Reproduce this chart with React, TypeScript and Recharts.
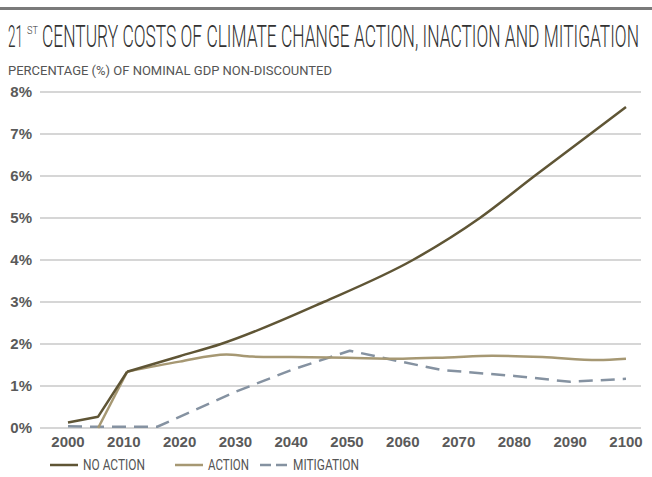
import { LineChart, Line, XAxis, YAxis, CartesianGrid } from 'recharts';

const xTicks = [2000, 2010, 2020, 2030, 2040, 2050, 2060, 2070, 2080, 2090, 2100];
const yTicks = [0, 1, 2, 3, 4, 5, 6, 7, 8];

// early straight segments and the later smooth part are drawn as two pieces of one series
const noActionEarlyYears = [2000, 2005.4, 2010.6];
const noActionEarlyValues = [0.13, 0.27, 1.34];
const noActionYears = [2010.6, 2020, 2027.4, 2045.8, 2061.8, 2073.8, 2083.6, 2093.6, 2100];
const noActionValues = [1.34, 1.71, 2.0, 3.0, 4.0, 5.0, 6.0, 7.0, 7.64];

const actionEarlyYears = [2005.4, 2010.6];
const actionEarlyValues = [0, 1.34];
const actionYears = [2010.6, 2020, 2028.4, 2033, 2040, 2050, 2060, 2068, 2076, 2085, 2095, 2100];
const actionValues = [1.34, 1.58, 1.75, 1.7, 1.69, 1.67, 1.65, 1.68, 1.72, 1.69, 1.62, 1.65];

const mitigationYears = [2000, 2005, 2010, 2016, 2030, 2040, 2050.5, 2060, 2067, 2080, 2090, 2100];
const mitigationValues = [0.04, 0.03, 0.03, 0.03, 0.86, 1.38, 1.84, 1.57, 1.38, 1.24, 1.1, 1.17];

const toRows = (years: number[], values: number[]) =>
  years.map((year, i) => ({ year, value: values[i] }));

const NO_ACTION = '#5f5535';
const ACTION = '#a69873';
const MITIGATION = '#8592a1';

const legendItems = [
  { name: 'NO ACTION', color: NO_ACTION, dashed: false, x: 50, w: 62 },
  { name: 'ACTION', color: ACTION, dashed: false, x: 175, w: 41 },
  { name: 'MITIGATION', color: MITIGATION, dashed: true, x: 260, w: 66 },
];

const lines = [
  { key: 'mit', color: MITIGATION, dash: '14 8', type: 'linear', data: toRows(mitigationYears, mitigationValues) },
  { key: 'actEarly', color: ACTION, dash: undefined, type: 'linear', data: toRows(actionEarlyYears, actionEarlyValues) },
  { key: 'act', color: ACTION, dash: undefined, type: 'monotone', data: toRows(actionYears, actionValues) },
  { key: 'noEarly', color: NO_ACTION, dash: undefined, type: 'linear', data: toRows(noActionEarlyYears, noActionEarlyValues) },
  { key: 'no', color: NO_ACTION, dash: undefined, type: 'monotone', data: toRows(noActionYears, noActionValues) },
];

const tickStyle = { fontSize: 15, fill: '#5a5a5a', fontWeight: 700, fontFamily: 'Liberation Sans, Arial, sans-serif' };

function LegendRow() {
  return (
    <svg width={652} height={20} style={{ position: 'absolute', left: 0, top: 456 }}>
      {legendItems.map((s) => (
        <g key={s.name}>
          <line
            x1={s.x}
            y1={9}
            x2={s.x + 28}
            y2={9}
            stroke={s.color}
            strokeWidth={2.5}
            strokeDasharray={s.dashed ? '11 5' : undefined}
          />
          <text
            x={s.x + 33}
            y={14}
            fontFamily="Roboto, sans-serif"
            fontSize={15}
            fill="#555"
            textLength={s.w}
            lengthAdjust="spacingAndGlyphs"
          >
            {s.name}
          </text>
        </g>
      ))}
    </svg>
  );
}

export default function App() {
  return (
    <div style={{ position: 'absolute', left: 0, top: 0, width: 652, height: 477, background: '#fff', overflow: 'hidden' }}>
      <svg width={652} height={80} style={{ position: 'absolute', left: 0, top: 0 }}>
        <rect x={0} y={7} width={652} height={3} fill="#7a7a7a" />
        <text x={8} y={47} fontFamily="Roboto, sans-serif" fontWeight={300} fontSize={31} fill="#333" textLength={15} lengthAdjust="spacingAndGlyphs">
          21
        </text>
        <text x={27} y={34} fontFamily="Roboto, sans-serif" fontWeight={300} fontSize={11} fill="#333" textLength={11} lengthAdjust="spacingAndGlyphs">
          ST
        </text>
        <text x={42} y={47} fontFamily="Roboto, sans-serif" fontWeight={300} fontSize={31} fill="#333" textLength={597} lengthAdjust="spacingAndGlyphs">
          CENTURY COSTS OF CLIMATE CHANGE ACTION, INACTION AND MITIGATION
        </text>
        <text x={8} y={75} fontFamily="Roboto, sans-serif" fontSize={13.5} fill="#555" textLength={324} lengthAdjust="spacingAndGlyphs">
          PERCENTAGE (%) OF NOMINAL GDP NON-DISCOUNTED
        </text>
      </svg>
      <div style={{ position: 'absolute', left: 0, top: 0 }}>
        <LineChart width={652} height={477} margin={{ top: 92, right: 11, bottom: 19, left: 0 }}>
          <CartesianGrid vertical={false} stroke="#c9c9c9" strokeWidth={1.5} />
          <XAxis
            type="number"
            dataKey="year"
            domain={[2000, 2100]}
            ticks={xTicks}
            allowDuplicatedCategory={false}
            padding={{ left: 28, right: 15 }}
            axisLine={false}
            tickLine={false}
            tick={tickStyle}
            height={30}
          />
          <YAxis
            type="number"
            domain={[0, 8]}
            ticks={yTicks}
            width={40}
            axisLine={false}
            tickLine={false}
            tick={tickStyle}
            tickFormatter={(v) => `${v}%`}
          />
          {lines.map((s) => (
            <Line
              key={s.key}
              data={s.data}
              dataKey="value"
              type={s.type as 'monotone' | 'linear'}
              stroke={s.color}
              strokeWidth={2.5}
              strokeDasharray={s.dash}
              strokeLinejoin="round"
              dot={false}
              isAnimationActive={false}
            />
          ))}
        </LineChart>
      </div>
      <LegendRow />
    </div>
  );
}
